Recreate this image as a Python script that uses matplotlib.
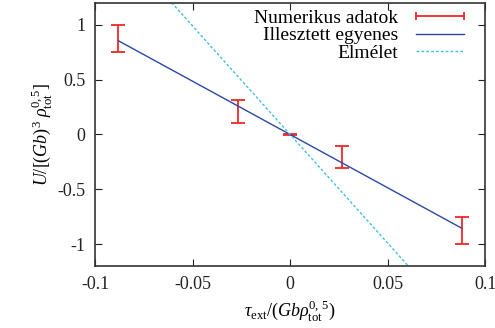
import numpy as np
import matplotlib.pyplot as plt
from matplotlib.lines import Line2D

plt.rcParams['font.family'] = ['Liberation Serif', 'DejaVu Serif']
plt.rcParams['mathtext.fontset'] = 'custom'
plt.rcParams['mathtext.rm'] = 'Liberation Serif'
plt.rcParams['mathtext.it'] = 'Liberation Serif:italic'

# numerical data with error bars
x_data = [-0.088, -0.0265, 0.0, 0.0265, 0.088]
y_data = [0.877, 0.21, 0.0, -0.204, -0.878]
y_err = [0.123, 0.105, 0.004, 0.102, 0.125]

# fitted straight line
x_fit = [-0.088, 0.088]
y_fit = [0.855, -0.855]

# theory
x_theory = [-0.07, 0.07]
theory_slope = -19.8

red = '#f02828'
blue = '#2a48a8'
cyan = '#40c0dc'

fig = plt.figure(figsize=(4.95, 3.28), dpi=100)
ax = fig.add_axes([0.192, 0.189, 0.788, 0.802])

ax.errorbar(x_data, y_data, yerr=y_err, fmt='none', ecolor=red,
            elinewidth=1.3, capsize=5, capthick=1.3)
ax.plot(x_fit, y_fit, color=blue, lw=1.0)
ax.plot(x_theory, [theory_slope * v for v in x_theory], color=cyan,
        lw=1.0, ls=(0, (2, 1.5)))

ax.set_xlim(-0.1, 0.1)
ax.set_ylim(-1.2, 1.2)
ax.set_xticks([-0.1, -0.05, 0, 0.05, 0.1])
ax.set_xticklabels(['-0.1', '-0.05', '0', '0.05', '0.1'])
ax.set_yticks([-1, -0.5, 0, 0.5, 1])
ax.set_yticklabels(['-1', '-0.5', '0', '0.5', '1'])
ax.tick_params(direction='in', top=True, right=True, labelsize=13, length=5,
               width=0.8, pad=7, colors='#222222')
for s in ax.spines.values():
    s.set_linewidth(1.2)
    s.set_color('#333333')

ax.set_xlabel(r'$\tau_{\rm ext}/(Gb\rho_{\rm tot}^{0,\,5})$', fontsize=13, labelpad=4)
ax.set_ylabel(r'$U/[(Gb)^3\ \rho_{\rm tot}^{0,5}]$', fontsize=13, labelpad=2)

handles = [
    Line2D([], [], color=red, lw=1.3, marker='|', markersize=6, markeredgewidth=1.3),
    Line2D([], [], color=blue, lw=1.0),
    Line2D([], [], color=cyan, lw=1.0, ls=(0, (2, 1.5))),
]
labels = ['Numerikus adatok', 'Illesztett egyenes', 'Elmélet']
ax.legend(handles, labels, loc='upper right', bbox_to_anchor=(0.962, 0.975),
          frameon=False, markerfirst=False,
          fontsize=14, numpoints=2, handlelength=3.1, labelspacing=-0.02,
          borderaxespad=0.0, borderpad=0.0, handletextpad=0.6)

fig.savefig('out.png', dpi=100)
